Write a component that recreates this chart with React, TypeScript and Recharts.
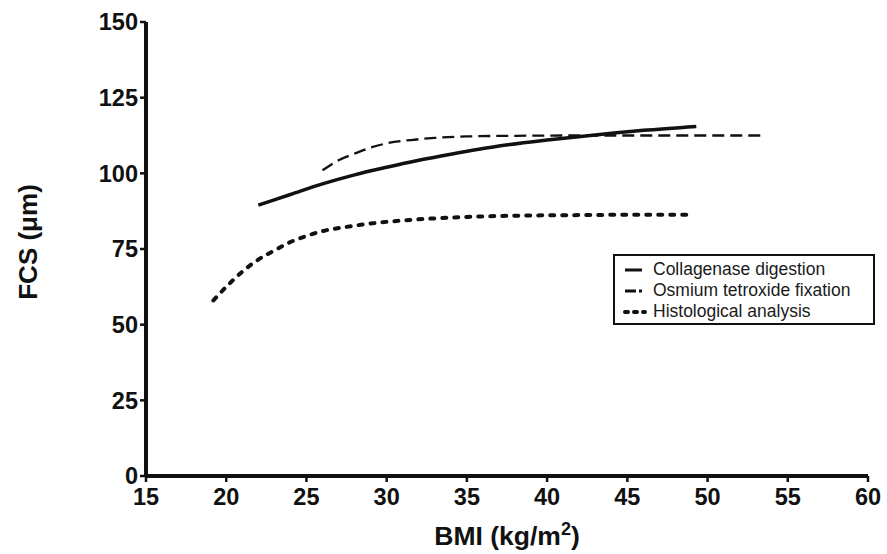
import { Label, Legend, Line, LineChart, ReferenceLine, XAxis, YAxis } from "recharts";

const bmiTicks = [15, 20, 25, 30, 35, 40, 45, 50, 55, 60];
const fcsTicks = [0, 25, 50, 75, 100, 125, 150];

const collagenaseBmi = [22, 24, 26, 28, 30, 32, 34, 37, 40, 43, 46, 49.3];
const collagenaseFcs = [89.5, 93, 96.5, 99.5, 102, 104.3, 106.3, 109, 111, 112.7, 114.2, 115.5];

const osmiumBmi = [26, 27, 28, 29, 30, 31.5, 33, 35, 38, 42, 46, 50, 53.5];
const osmiumFcs = [101, 104.3, 106.5, 108.5, 109.9, 111, 111.7, 112.2, 112.4, 112.5, 112.5, 112.5, 112.5];

const histoBmi = [19.2, 20, 21, 22, 23, 24, 25, 26, 27.5, 29.5, 32, 35, 38, 42, 45, 48.7];
const histoFcs = [58, 62.5, 67.5, 71.5, 74.5, 77.3, 79.3, 80.9, 82.3, 83.7, 84.8, 85.6, 86, 86.2, 86.3, 86.3];

const zip = (xs: number[], ys: number[]) => xs.map((x, i) => ({ x, y: ys[i] }));

const series = [
  { name: "Collagenase digestion", data: zip(collagenaseBmi, collagenaseFcs), width: 3.5, dash: undefined, cap: "butt", legendDash: undefined },
  { name: "Osmium tetroxide fixation", data: zip(osmiumBmi, osmiumFcs), width: 2.3, dash: "12 6", cap: "butt", legendDash: "11 3 3 10" },
  { name: "Histological analysis", data: zip(histoBmi, histoFcs), width: 4, dash: "4 8", cap: "round", legendDash: "3 6" }
];

const font = "'Liberation Sans', Arial, sans-serif";
const tickStyle = { fill: "#111", fontSize: 23.5, fontWeight: "bold", fontFamily: font, strokeWidth: 0 };

function LegendBox() {
  return (
    <div
      style={{
        border: "2px solid #111",
        width: 258,
        height: 67,
        boxSizing: "content-box",
        padding: 0,
        fontFamily: font,
        fontSize: 17.5,
        color: "#1a1a1a",
        background: "#fff"
      }}
    >
      {series.map((s, i) => (
        <div key={s.name} style={{ display: "flex", alignItems: "center", height: 21, marginTop: i === 0 ? 3 : 0 }}>
          <svg width={40} height={12} style={{ marginLeft: 8 }}>
            <line
              x1={2}
              y1={6}
              x2={s.cap === "round" ? 22 : 19}
              y2={6}
              stroke="#111"
              strokeWidth={s.cap === "round" ? 4 : 3}
              strokeDasharray={s.legendDash}
              strokeLinecap={s.cap as "butt" | "round"}
            />
          </svg>
          <span style={{ marginLeft: -10, whiteSpace: "nowrap" }}>{s.name}</span>
        </div>
      ))}
    </div>
  );
}

export default function App() {
  return (
    <div style={{ position: "absolute", left: 0, top: 0, background: "#fff" }}>
      <LineChart width={887} height={554} margin={{ top: 22, right: 19, bottom: 0, left: 0 }}>
        <XAxis
          dataKey="x"
          type="number"
          domain={[15, 60]}
          ticks={bmiTicks}
          allowDuplicatedCategory={false}
          height={78}
          stroke="#111"
          axisLine={{ stroke: "#111", strokeWidth: 4 }}
          tickLine={{ stroke: "#111", strokeWidth: 2.5 }}
          tickSize={6}
          tickMargin={6}
          tick={tickStyle}
        >
          <Label
            content={() => (
              <text x={507} y={545} textAnchor="middle" fontFamily={font} fontWeight="bold" fontSize={26.5} fill="#111">
                BMI (kg/m
                <tspan dy={-10} fontSize={18}>2</tspan>
                <tspan dy={10}>)</tspan>
              </text>
            )}
          />
        </XAxis>
        <YAxis
          dataKey="y"
          type="number"
          domain={[0, 150]}
          ticks={fcsTicks}
          width={146}
          stroke="#111"
          axisLine={{ stroke: "#111", strokeWidth: 4 }}
          tickLine={{ stroke: "#111", strokeWidth: 2.5 }}
          tickSize={6}
          tickMargin={2}
          tick={tickStyle}
        >
          <Label
            content={() => (
              <text
                x={37}
                y={242}
                transform="rotate(-90 37 242)"
                textAnchor="middle"
                fontFamily={font}
                fontWeight="bold"
                fontSize={26}
                fill="#111"
              >
                FCS (μm)
              </text>
            )}
          />
        </YAxis>
        <ReferenceLine y={0} stroke="#111" strokeWidth={4} />
        <ReferenceLine x={15} stroke="#111" strokeWidth={4} />
        <Legend
          layout="horizontal"
          verticalAlign="middle"
          align="center"
          wrapperStyle={{ left: 613, top: 254, width: 262 }}
          content={() => <LegendBox />}
        />
        {series.map((s) => (
          <Line
            key={s.name}
            name={s.name}
            data={s.data}
            dataKey="y"
            type="monotone"
            stroke="#111"
            strokeWidth={s.width}
            strokeDasharray={s.dash}
            strokeLinecap={s.cap as "butt" | "round"}
            dot={false}
            activeDot={false}
            isAnimationActive={false}
          />
        ))}
      </LineChart>
    </div>
  );
}
